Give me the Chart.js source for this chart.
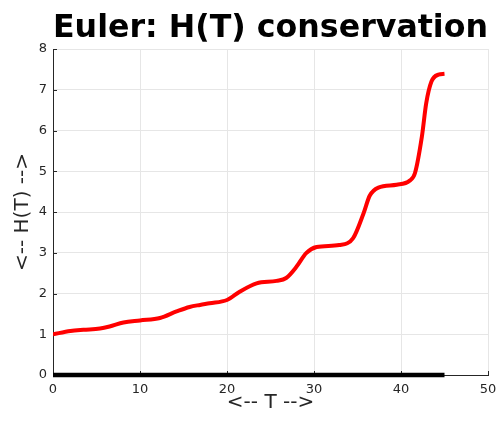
<!DOCTYPE html>
<html>
<head>
<meta charset="utf-8">
<script src="https://cdn.jsdelivr.net/npm/chart.js@4"></script>
<style>
  html, body { margin: 0; padding: 0; background: #fff; }
  #myChart { display: block; }
</style>
</head>
<body>
<canvas id="myChart" width="497" height="421"></canvas>
<script>
// values
var tValues = [0, 2, 3.5, 5.4, 6.5, 8.1, 10, 12.3, 14.2, 15.7, 16.9, 18, 20, 21.5, 23.4, 25.7, 26.8, 28, 29.1, 30.3, 32.9, 34.5, 35.7, 36.4, 37.4, 39.5, 41, 41.6, 42.4, 42.9, 43.5, 44.3, 45];
var hValues = [1.0, 1.08, 1.11, 1.14, 1.19, 1.29, 1.34, 1.40, 1.56, 1.67, 1.72, 1.76, 1.84, 2.05, 2.25, 2.31, 2.38, 2.66, 2.99, 3.14, 3.19, 3.36, 3.97, 4.40, 4.60, 4.67, 4.77, 4.95, 5.85, 6.67, 7.20, 7.37, 7.39];
var baseT = [0, 45];
var baseH = [0, 0];
var xTicks = [0, 10, 20, 30, 40, 50];
var yTicks = [0, 1, 2, 3, 4, 5, 6, 7, 8];

var textColor = '#262626';
var ctx = document.getElementById('myChart');

function toPoints(xs, ys){
    let pts = [];
    for(let i = 0; i < xs.length; i++){
        pts.push({x: xs[i], y: ys[i]});
    }
    return pts;
}

// small inward tick marks on the left and bottom axes
var innerTicks = {
    id: 'innerTicks',
    beforeDatasetsDraw: function(chart){
        let c = chart.ctx;
        let area = chart.chartArea;
        let xs = chart.scales.x;
        let ys = chart.scales.y;
        c.save();
        c.strokeStyle = '#262626';
        c.lineWidth = 1;
        c.beginPath();
        xTicks.forEach(function(v){
            let px = Math.round(xs.getPixelForValue(v)) + 0.5;
            c.moveTo(px, area.bottom);
            c.lineTo(px, area.bottom - 4);
        });
        yTicks.forEach(function(v){
            let py = Math.round(ys.getPixelForValue(v)) + 0.5;
            c.moveTo(area.left, py);
            c.lineTo(area.left + 4, py);
        });
        c.stroke();
        c.restore();
    }
};

var myChart = new Chart(ctx, {
    type: 'line',
    data: {
        datasets: [{
            label: 'H(T)',
            data: toPoints(tValues, hValues),
            borderColor: '#ff0000',
            borderWidth: 4,
            pointRadius: 0,
            cubicInterpolationMode: 'monotone',
            fill: false
        },
        {
            label: 'base',
            data: toPoints(baseT, baseH),
            borderColor: '#000000',
            borderWidth: 4.5,
            pointRadius: 0,
            clip: false,
            fill: false
        }]
    },
    options: {
        responsive: false,
        animation: false,
        layout: {
            padding: {left: 3, right: 9, top: 0, bottom: 0}
        },
        plugins: {
            legend: {display: false},
            tooltip: {enabled: false},
            title: {
                display: true,
                text: 'Euler: H(T) conservation',
                fullSize: false,
                color: '#000000',
                font: {family: 'DejaVu Sans', size: 32, weight: 'bold', lineHeight: 1.2},
                padding: {top: 9, bottom: 1.6}
            }
        },
        scales: {
            x: {
                type: 'linear',
                min: 0,
                max: 50,
                afterBuildTicks: function(scale){
                    scale.ticks = xTicks.map(v => ({value: v}));
                },
                afterFit: function(scale){
                    scale.height = 46;
                    // no extra room for the end labels, the layout padding covers it
                    scale.paddingLeft = 0;
                    scale.paddingRight = 0;
                },
                grid: {color: '#e6e6e6', drawTicks: false},
                border: {color: '#262626', width: 1},
                ticks: {
                    color: textColor,
                    padding: 7,
                    maxRotation: 0,
                    font: {family: 'DejaVu Sans', size: 13}
                },
                title: {
                    display: true,
                    text: '<-- T -->',
                    color: textColor,
                    font: {family: 'DejaVu Sans', size: 20, lineHeight: 1.2},
                    padding: {top: 0, bottom: 6}
                }
            },
            y: {
                min: 0,
                max: 8,
                afterBuildTicks: function(scale){
                    scale.ticks = yTicks.map(v => ({value: v}));
                },
                afterFit: function(scale){ scale.width = 50; },
                grid: {color: '#e6e6e6', drawTicks: false},
                border: {color: '#262626', width: 1},
                ticks: {
                    color: textColor,
                    padding: 6,
                    font: {family: 'DejaVu Sans', size: 13}
                },
                title: {
                    display: true,
                    text: '<-- H(T) -->',
                    color: textColor,
                    font: {family: 'DejaVu Sans', size: 20, lineHeight: 1.2},
                    padding: {top: 8, bottom: 0}
                }
            }
        }
    },
    plugins: [innerTicks]
});
</script>
</body>
</html>
